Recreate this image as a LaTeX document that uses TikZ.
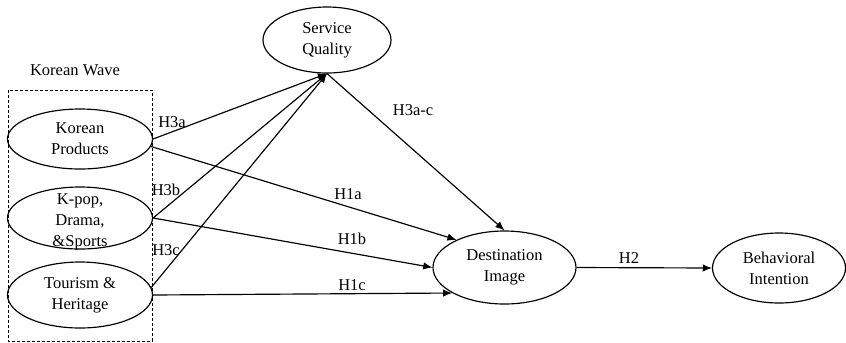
\documentclass[tikz,border=0pt]{standalone}
\usepackage{fontspec}
\setmainfont{Liberation Serif}
\usetikzlibrary{shapes.geometric,arrows.meta}
\tikzset{
  construct/.style={draw,ellipse,line width=0.7pt,inner sep=0pt,align=center},
  path/.style={line width=0.7pt,-{Latex[length=5.5pt,width=4.5pt]}},
  hyp/.style={inner sep=0pt},
}
\begin{document}
\begin{tikzpicture}[x=0.6pt,y=-0.6pt,font=\fontsize{9.9}{12.6}\selectfont]
      \useasboundingbox (0,0) rectangle (846,342);
      % constructs
      \node[construct,minimum width=76.8pt,minimum height=39.6pt] (sq) at (327,40) {Service\\Quality};
      \node[construct,minimum width=87pt,minimum height=36pt] (kp) at (80,139) {Korean\\Products};
      \node[construct,minimum width=87pt,minimum height=37.2pt] (kd) at (80,218) {};
      \node[inner sep=0pt,align=center] (kdtext) at (80,222) {K-pop,\\Drama,\\\&Sports};
      \node[construct,minimum width=87pt,minimum height=39.6pt] (tr) at (80,295) {Tourism \&\\Heritage};
      \node[construct,minimum width=85.8pt,minimum height=43.8pt] (di) at (504.5,267.5) {Destination\\Image};
      \node[construct,minimum width=79.8pt,minimum height=42pt] (bi) at (779,268) {Behavioral\\Intention};
      % korean wave group
      \node (kw) at (75,70) {Korean Wave};
      \draw[dashed,dash pattern=on 1.8pt off 1.2pt,line width=0.6pt] (8,90) rectangle (152,341);
      % paths
      \begin{scope}[path]
        \draw (kp.east) to (sq.south);
        \draw (kd.east) to (sq.south);
        \draw (tr.6) to (sq.south);
        \draw (kp.-6) to (di.150);
        \draw (kd.east) to (di.west);
        \draw (tr.east) to (di.206);
        \draw (sq.south) to (di.north);
        \draw (di.east) to (bi.west);
      \end{scope}
      % hypotheses
      \node[hyp] (h3a) at (172,122) {H3a};
      \node[hyp] (h3b) at (166,190) {H3b};
      \node[hyp] (h3c) at (166,250) {H3c};
      \node[hyp] (h3ac) at (413,110) {H3a-c};
      \node[hyp] (h1a) at (348,194) {H1a};
      \node[hyp] (h1b) at (352,239) {H1b};
      \node[hyp] (h1c) at (352,285) {H1c};
      \node[hyp] (h2) at (629,258) {H2};
    \end{tikzpicture}
\end{document}
